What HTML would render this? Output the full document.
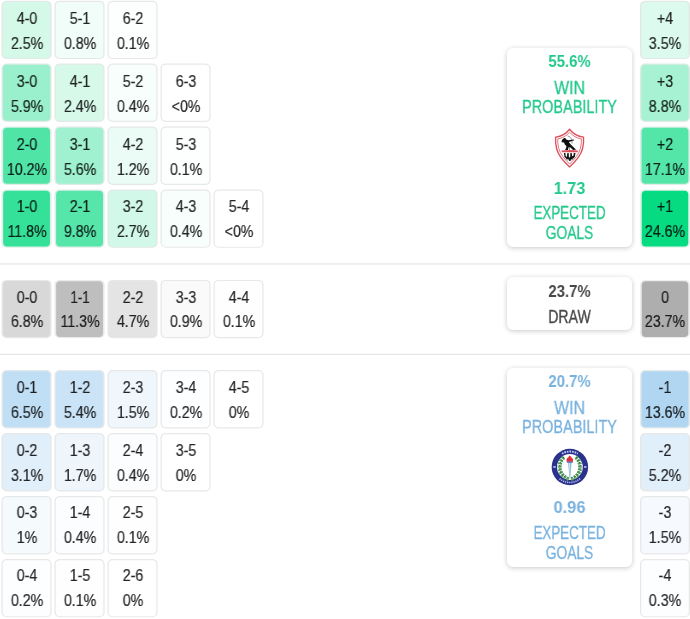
<!DOCTYPE html>
<html><head><meta charset="utf-8"><title>Score matrix</title>
<style>
html,body{margin:0;padding:0;background:#fff;}
body{width:690px;height:619px;position:relative;overflow:hidden;font-family:"Liberation Sans",sans-serif;color:rgba(0,0,0,0.86);}
.bg{position:absolute;left:0;top:0;display:block;}
.c{position:absolute;top:0;height:0;text-align:center;font-size:16.6px;line-height:19px;}
.c span{-webkit-text-stroke:0.2px currentColor;display:block;will-change:transform;position:absolute;left:0;width:100%;transform-origin:50% 50%;white-space:nowrap;}
.hr{position:absolute;left:0;width:690px;height:2px;}
.card{position:absolute;left:507px;width:125px;box-sizing:border-box;background:#fff;border-radius:6px;box-shadow:0 1px 5px rgba(0,0,0,0.22);text-align:center;}
.card span{display:block;will-change:transform;position:absolute;left:-0.3px;width:100%;white-space:nowrap;transform-origin:50% 50%;}
.card svg{position:absolute;display:block;}
.g{color:#22c98b;} .b{color:#78b2de;} .k{color:#484848;}
.big{font-size:17.2px;font-weight:bold;line-height:20px;}
.cap{font-size:18.6px;line-height:21px;-webkit-text-stroke:0.3px currentColor;}
</style></head><body>
<svg class="bg" width="690" height="619" viewBox="0 0 690 619">
<rect x="1.50" y="0.80" width="50.10" height="58.30" rx="5" fill="rgb(226,233,230)"/><rect x="2.83" y="1.97" width="47.43" height="55.97" rx="4" fill="rgb(212,249,233)"/>
<rect x="54.50" y="0.80" width="50.10" height="58.30" rx="5" fill="rgb(230,232,231)"/><rect x="55.78" y="1.96" width="47.55" height="55.99" rx="4" fill="rgb(241,253,248)"/>
<rect x="107.50" y="0.80" width="50.10" height="58.30" rx="5" fill="rgb(231,232,232)"/><rect x="108.75" y="1.95" width="47.59" height="56.00" rx="4" fill="rgb(253,255,254)"/>
<rect x="1.50" y="63.60" width="50.10" height="58.30" rx="5" fill="rgb(221,234,229)"/><rect x="2.95" y="64.79" width="47.20" height="55.92" rx="4" fill="rgb(154,240,204)"/>
<rect x="54.50" y="63.60" width="50.10" height="58.30" rx="5" fill="rgb(226,233,230)"/><rect x="55.83" y="64.77" width="47.44" height="55.97" rx="4" fill="rgb(214,249,234)"/>
<rect x="107.50" y="63.60" width="50.10" height="58.30" rx="5" fill="rgb(231,232,232)"/><rect x="108.76" y="64.75" width="47.57" height="55.99" rx="4" fill="rgb(248,254,252)"/>
<rect x="160.50" y="63.60" width="50.10" height="58.30" rx="5" fill="rgb(232,232,232)"/><rect x="161.75" y="64.75" width="47.60" height="56.00" rx="4" fill="rgb(255,255,255)"/>
<rect x="1.50" y="126.60" width="50.10" height="58.30" rx="5" fill="rgb(220,237,230)"/><rect x="3.10" y="127.82" width="46.91" height="55.86" rx="4" fill="rgb(80,229,167)"/>
<rect x="54.50" y="126.60" width="50.10" height="58.30" rx="5" fill="rgb(221,234,229)"/><rect x="55.94" y="127.79" width="47.22" height="55.92" rx="4" fill="rgb(159,241,207)"/>
<rect x="107.50" y="126.60" width="50.10" height="58.30" rx="5" fill="rgb(229,232,231)"/><rect x="108.79" y="127.76" width="47.52" height="55.98" rx="4" fill="rgb(234,252,245)"/>
<rect x="160.50" y="126.60" width="50.10" height="58.30" rx="5" fill="rgb(231,232,232)"/><rect x="161.75" y="127.75" width="47.59" height="56.00" rx="4" fill="rgb(253,255,254)"/>
<rect x="1.50" y="189.50" width="50.10" height="58.30" rx="5" fill="rgb(221,239,231)"/><rect x="3.15" y="190.73" width="46.80" height="55.84" rx="4" fill="rgb(53,225,153)"/>
<rect x="54.50" y="189.50" width="50.10" height="58.30" rx="5" fill="rgb(220,237,230)"/><rect x="56.08" y="190.72" width="46.93" height="55.87" rx="4" fill="rgb(87,230,170)"/>
<rect x="107.50" y="189.50" width="50.10" height="58.30" rx="5" fill="rgb(226,233,230)"/><rect x="108.84" y="190.67" width="47.42" height="55.96" rx="4" fill="rgb(209,248,232)"/>
<rect x="160.50" y="189.50" width="50.10" height="58.30" rx="5" fill="rgb(231,232,232)"/><rect x="161.76" y="190.65" width="47.57" height="55.99" rx="4" fill="rgb(248,254,252)"/>
<rect x="213.50" y="189.50" width="50.10" height="58.30" rx="5" fill="rgb(232,232,232)"/><rect x="214.75" y="190.65" width="47.60" height="56.00" rx="4" fill="rgb(255,255,255)"/>
<rect x="1.50" y="279.90" width="50.10" height="58.30" rx="5" fill="rgb(232,232,232)"/><rect x="2.98" y="281.10" width="47.14" height="55.91" rx="4" fill="rgb(216,216,216)"/>
<rect x="54.50" y="279.90" width="50.10" height="58.30" rx="5" fill="rgb(234,234,234)"/><rect x="56.13" y="281.13" width="46.83" height="55.85" rx="4" fill="rgb(190,190,190)"/>
<rect x="107.50" y="279.90" width="50.10" height="58.30" rx="5" fill="rgb(231,231,231)"/><rect x="108.91" y="281.08" width="47.28" height="55.94" rx="4" fill="rgb(228,228,228)"/>
<rect x="160.50" y="279.90" width="50.10" height="58.30" rx="5" fill="rgb(232,232,232)"/><rect x="161.78" y="281.06" width="47.54" height="55.99" rx="4" fill="rgb(250,250,250)"/>
<rect x="213.50" y="279.90" width="50.10" height="58.30" rx="5" fill="rgb(232,232,232)"/><rect x="214.75" y="281.05" width="47.59" height="56.00" rx="4" fill="rgb(254,254,254)"/>
<rect x="1.50" y="370.10" width="50.10" height="58.30" rx="5" fill="rgb(228,232,235)"/><rect x="2.97" y="371.29" width="47.16" height="55.91" rx="4" fill="rgb(192,222,244)"/>
<rect x="54.50" y="370.10" width="50.10" height="58.30" rx="5" fill="rgb(228,232,235)"/><rect x="55.93" y="371.29" width="47.23" height="55.93" rx="4" fill="rgb(202,227,246)"/>
<rect x="107.50" y="370.10" width="50.10" height="58.30" rx="5" fill="rgb(230,231,232)"/><rect x="108.80" y="371.26" width="47.50" height="55.98" rx="4" fill="rgb(240,247,252)"/>
<rect x="160.50" y="370.10" width="50.10" height="58.30" rx="5" fill="rgb(232,232,232)"/><rect x="161.76" y="371.25" width="47.59" height="56.00" rx="4" fill="rgb(253,254,255)"/>
<rect x="213.50" y="370.10" width="50.10" height="58.30" rx="5" fill="rgb(232,232,232)"/><rect x="214.75" y="371.25" width="47.60" height="56.00" rx="4" fill="rgb(255,255,255)"/>
<rect x="1.50" y="433.10" width="50.10" height="58.30" rx="5" fill="rgb(229,231,233)"/><rect x="2.86" y="434.27" width="47.39" height="55.96" rx="4" fill="rgb(225,239,250)"/>
<rect x="54.50" y="433.10" width="50.10" height="58.30" rx="5" fill="rgb(230,231,233)"/><rect x="55.81" y="434.26" width="47.48" height="55.98" rx="4" fill="rgb(238,246,252)"/>
<rect x="107.50" y="433.10" width="50.10" height="58.30" rx="5" fill="rgb(231,232,232)"/><rect x="108.76" y="434.25" width="47.57" height="55.99" rx="4" fill="rgb(251,253,254)"/>
<rect x="160.50" y="433.10" width="50.10" height="58.30" rx="5" fill="rgb(232,232,232)"/><rect x="161.75" y="434.25" width="47.60" height="56.00" rx="4" fill="rgb(255,255,255)"/>
<rect x="1.50" y="496.10" width="50.10" height="58.30" rx="5" fill="rgb(231,232,232)"/><rect x="2.78" y="497.26" width="47.53" height="55.99" rx="4" fill="rgb(245,250,253)"/>
<rect x="54.50" y="496.10" width="50.10" height="58.30" rx="5" fill="rgb(231,232,232)"/><rect x="55.76" y="497.25" width="47.57" height="55.99" rx="4" fill="rgb(251,253,254)"/>
<rect x="107.50" y="496.10" width="50.10" height="58.30" rx="5" fill="rgb(232,232,232)"/><rect x="108.75" y="497.25" width="47.59" height="56.00" rx="4" fill="rgb(254,254,255)"/>
<rect x="1.50" y="559.00" width="50.10" height="58.30" rx="5" fill="rgb(232,232,232)"/><rect x="2.76" y="560.15" width="47.59" height="56.00" rx="4" fill="rgb(253,254,255)"/>
<rect x="54.50" y="559.00" width="50.10" height="58.30" rx="5" fill="rgb(232,232,232)"/><rect x="55.75" y="560.15" width="47.59" height="56.00" rx="4" fill="rgb(254,254,255)"/>
<rect x="107.50" y="559.00" width="50.10" height="58.30" rx="5" fill="rgb(232,232,232)"/><rect x="108.75" y="560.15" width="47.60" height="56.00" rx="4" fill="rgb(255,255,255)"/>
<rect x="640.00" y="0.80" width="50.00" height="58.30" rx="5" fill="rgb(227,232,230)"/><rect x="641.32" y="1.96" width="47.36" height="55.97" rx="4" fill="rgb(220,250,237)"/>
<rect x="640.00" y="63.60" width="50.00" height="58.30" rx="5" fill="rgb(222,234,229)"/><rect x="641.43" y="64.79" width="47.15" height="55.93" rx="4" fill="rgb(166,242,210)"/>
<rect x="640.00" y="126.60" width="50.00" height="58.30" rx="5" fill="rgb(220,237,230)"/><rect x="641.59" y="127.82" width="46.82" height="55.86" rx="4" fill="rgb(83,230,168)"/>
<rect x="640.00" y="189.50" width="50.00" height="58.30" rx="5" fill="rgb(224,242,234)"/><rect x="641.74" y="190.75" width="46.52" height="55.80" rx="4" fill="rgb(7,219,130)"/>
<rect x="640.00" y="279.90" width="50.00" height="58.30" rx="5" fill="rgb(237,237,237)"/><rect x="641.72" y="281.14" width="46.55" height="55.81" rx="4" fill="rgb(174,174,174)"/>
<rect x="640.00" y="370.10" width="50.00" height="58.30" rx="5" fill="rgb(228,233,236)"/><rect x="641.52" y="371.30" width="46.96" height="55.89" rx="4" fill="rgb(177,214,241)"/>
<rect x="640.00" y="433.10" width="50.00" height="58.30" rx="5" fill="rgb(229,231,233)"/><rect x="641.35" y="434.27" width="47.29" height="55.96" rx="4" fill="rgb(225,239,250)"/>
<rect x="640.00" y="496.10" width="50.00" height="58.30" rx="5" fill="rgb(231,231,232)"/><rect x="641.28" y="497.26" width="47.44" height="55.99" rx="4" fill="rgb(246,250,254)"/>
<rect x="640.00" y="559.00" width="50.00" height="58.30" rx="5" fill="rgb(232,232,232)"/><rect x="641.26" y="560.15" width="47.49" height="56.00" rx="4" fill="rgb(253,254,255)"/>
</svg>
<div class="c" style="left:1.50px;width:50.10px"><span style="top:9px;transform:scaleX(0.855)">4-0</span><span style="top:34px;transform:scaleX(0.855)">2.5%</span></div>
<div class="c" style="left:54.50px;width:50.10px"><span style="top:9px;transform:scaleX(0.855)">5-1</span><span style="top:34px;transform:scaleX(0.855)">0.8%</span></div>
<div class="c" style="left:107.50px;width:50.10px"><span style="top:9px;transform:scaleX(0.855)">6-2</span><span style="top:34px;transform:scaleX(0.855)">0.1%</span></div>
<div class="c" style="left:1.50px;width:50.10px"><span style="top:72px;transform:scaleX(0.855)">3-0</span><span style="top:97px;transform:scaleX(0.855)">5.9%</span></div>
<div class="c" style="left:54.50px;width:50.10px"><span style="top:72px;transform:scaleX(0.855)">4-1</span><span style="top:97px;transform:scaleX(0.855)">2.4%</span></div>
<div class="c" style="left:107.50px;width:50.10px"><span style="top:72px;transform:scaleX(0.855)">5-2</span><span style="top:97px;transform:scaleX(0.855)">0.4%</span></div>
<div class="c" style="left:160.50px;width:50.10px"><span style="top:72px;transform:scaleX(0.855)">6-3</span><span style="top:97px;transform:scaleX(0.855)">&lt;0%</span></div>
<div class="c" style="left:1.50px;width:50.10px"><span style="top:135px;transform:scaleX(0.855)">2-0</span><span style="top:160px;transform:scaleX(0.855)">10.2%</span></div>
<div class="c" style="left:54.50px;width:50.10px"><span style="top:135px;transform:scaleX(0.855)">3-1</span><span style="top:160px;transform:scaleX(0.855)">5.6%</span></div>
<div class="c" style="left:107.50px;width:50.10px"><span style="top:135px;transform:scaleX(0.855)">4-2</span><span style="top:160px;transform:scaleX(0.855)">1.2%</span></div>
<div class="c" style="left:160.50px;width:50.10px"><span style="top:135px;transform:scaleX(0.855)">5-3</span><span style="top:160px;transform:scaleX(0.855)">0.1%</span></div>
<div class="c" style="left:1.50px;width:50.10px"><span style="top:197px;transform:scaleX(0.855)">1-0</span><span style="top:222px;transform:scaleX(0.855)">11.8%</span></div>
<div class="c" style="left:54.50px;width:50.10px"><span style="top:197px;transform:scaleX(0.855)">2-1</span><span style="top:222px;transform:scaleX(0.855)">9.8%</span></div>
<div class="c" style="left:107.50px;width:50.10px"><span style="top:197px;transform:scaleX(0.855)">3-2</span><span style="top:222px;transform:scaleX(0.855)">2.7%</span></div>
<div class="c" style="left:160.50px;width:50.10px"><span style="top:197px;transform:scaleX(0.855)">4-3</span><span style="top:222px;transform:scaleX(0.855)">0.4%</span></div>
<div class="c" style="left:213.50px;width:50.10px"><span style="top:197px;transform:scaleX(0.855)">5-4</span><span style="top:222px;transform:scaleX(0.855)">&lt;0%</span></div>
<div class="c" style="left:1.50px;width:50.10px"><span style="top:288px;transform:scaleX(0.855)">0-0</span><span style="top:312px;transform:scaleX(0.855)">6.8%</span></div>
<div class="c" style="left:54.50px;width:50.10px"><span style="top:288px;transform:scaleX(0.800)">1-1</span><span style="top:312px;transform:scaleX(0.855)">11.3%</span></div>
<div class="c" style="left:107.50px;width:50.10px"><span style="top:288px;transform:scaleX(0.855)">2-2</span><span style="top:312px;transform:scaleX(0.855)">4.7%</span></div>
<div class="c" style="left:160.50px;width:50.10px"><span style="top:288px;transform:scaleX(0.855)">3-3</span><span style="top:312px;transform:scaleX(0.855)">0.9%</span></div>
<div class="c" style="left:213.50px;width:50.10px"><span style="top:288px;transform:scaleX(0.855)">4-4</span><span style="top:312px;transform:scaleX(0.855)">0.1%</span></div>
<div class="c" style="left:1.50px;width:50.10px"><span style="top:378px;transform:scaleX(0.855)">0-1</span><span style="top:403px;transform:scaleX(0.855)">6.5%</span></div>
<div class="c" style="left:54.50px;width:50.10px"><span style="top:378px;transform:scaleX(0.855)">1-2</span><span style="top:403px;transform:scaleX(0.855)">5.4%</span></div>
<div class="c" style="left:107.50px;width:50.10px"><span style="top:378px;transform:scaleX(0.855)">2-3</span><span style="top:403px;transform:scaleX(0.855)">1.5%</span></div>
<div class="c" style="left:160.50px;width:50.10px"><span style="top:378px;transform:scaleX(0.855)">3-4</span><span style="top:403px;transform:scaleX(0.855)">0.2%</span></div>
<div class="c" style="left:213.50px;width:50.10px"><span style="top:378px;transform:scaleX(0.855)">4-5</span><span style="top:403px;transform:scaleX(0.855)">0%</span></div>
<div class="c" style="left:1.50px;width:50.10px"><span style="top:441px;transform:scaleX(0.855)">0-2</span><span style="top:466px;transform:scaleX(0.855)">3.1%</span></div>
<div class="c" style="left:54.50px;width:50.10px"><span style="top:441px;transform:scaleX(0.855)">1-3</span><span style="top:466px;transform:scaleX(0.855)">1.7%</span></div>
<div class="c" style="left:107.50px;width:50.10px"><span style="top:441px;transform:scaleX(0.855)">2-4</span><span style="top:466px;transform:scaleX(0.855)">0.4%</span></div>
<div class="c" style="left:160.50px;width:50.10px"><span style="top:441px;transform:scaleX(0.855)">3-5</span><span style="top:466px;transform:scaleX(0.855)">0%</span></div>
<div class="c" style="left:1.50px;width:50.10px"><span style="top:503px;transform:scaleX(0.855)">0-3</span><span style="top:528px;transform:scaleX(0.855)">1%</span></div>
<div class="c" style="left:54.50px;width:50.10px"><span style="top:503px;transform:scaleX(0.855)">1-4</span><span style="top:528px;transform:scaleX(0.855)">0.4%</span></div>
<div class="c" style="left:107.50px;width:50.10px"><span style="top:503px;transform:scaleX(0.855)">2-5</span><span style="top:528px;transform:scaleX(0.855)">0.1%</span></div>
<div class="c" style="left:1.50px;width:50.10px"><span style="top:566px;transform:scaleX(0.855)">0-4</span><span style="top:591px;transform:scaleX(0.855)">0.2%</span></div>
<div class="c" style="left:54.50px;width:50.10px"><span style="top:566px;transform:scaleX(0.855)">1-5</span><span style="top:591px;transform:scaleX(0.855)">0.1%</span></div>
<div class="c" style="left:107.50px;width:50.10px"><span style="top:566px;transform:scaleX(0.855)">2-6</span><span style="top:591px;transform:scaleX(0.855)">0%</span></div>
<div class="c" style="left:640.00px;width:50.00px"><span style="top:9px;transform:scaleX(0.855)">+4</span><span style="top:34px;transform:scaleX(0.855)">3.5%</span></div>
<div class="c" style="left:640.00px;width:50.00px"><span style="top:72px;transform:scaleX(0.855)">+3</span><span style="top:97px;transform:scaleX(0.855)">8.8%</span></div>
<div class="c" style="left:640.00px;width:50.00px"><span style="top:135px;transform:scaleX(0.855)">+2</span><span style="top:160px;transform:scaleX(0.855)">17.1%</span></div>
<div class="c" style="left:640.00px;width:50.00px"><span style="top:197px;transform:scaleX(0.855)">+1</span><span style="top:222px;transform:scaleX(0.855)">24.6%</span></div>
<div class="c" style="left:640.00px;width:50.00px"><span style="top:288px;transform:scaleX(0.855)">0</span><span style="top:312px;transform:scaleX(0.855)">23.7%</span></div>
<div class="c" style="left:640.00px;width:50.00px"><span style="top:378px;transform:scaleX(0.855)">-1</span><span style="top:403px;transform:scaleX(0.855)">13.6%</span></div>
<div class="c" style="left:640.00px;width:50.00px"><span style="top:441px;transform:scaleX(0.855)">-2</span><span style="top:466px;transform:scaleX(0.855)">5.2%</span></div>
<div class="c" style="left:640.00px;width:50.00px"><span style="top:503px;transform:scaleX(0.855)">-3</span><span style="top:528px;transform:scaleX(0.855)">1.5%</span></div>
<div class="c" style="left:640.00px;width:50.00px"><span style="top:566px;transform:scaleX(0.855)">-4</span><span style="top:591px;transform:scaleX(0.855)">0.3%</span></div>
<div class="hr" style="top:263px;background:linear-gradient(#eeeeee 50%,#f1f1f1 50%)"></div>
<div class="hr" style="top:353px;background:linear-gradient(#f8f8f8 50%,#e8e8e8 50%)"></div>
<div class="card g" style="top:48.0px;height:199.0px">
<span class="big" style="top:3.00px;transform:scaleX(0.872)">55.6%</span>
<span class="cap" style="top:29.00px;transform:scaleX(0.854)">WIN</span>
<span class="cap" style="top:48.00px;transform:scaleX(0.778)">PROBABILITY</span>
<svg style="left:42.6px;top:76.8px" width="40.5" height="45.4" viewBox="549 124 42 47" preserveAspectRatio="none">
<path d="M569.3,128.4 C565.8,133.0 560.8,135.8 554.8,136.5 C554.3,145.4 556.0,152.0 560.2,157.6 C562.9,161.2 566.2,164.6 569.3,167.4 C572.4,164.6 575.7,161.2 578.4,157.6 C582.6,152.0 584.3,145.4 583.8,136.5 C577.8,135.8 572.8,133.0 569.3,128.4 Z" fill="#fff" stroke="#dd4f5d" stroke-width="1.4" stroke-linejoin="round"/>
<path d="M569.3,131.6 C566.0,135.3 561.8,137.6 557.0,138.4 C556.8,145.7 558.4,151.5 562.0,156.3 C564.2,159.3 566.8,162.1 569.3,164.5 C571.8,162.1 574.4,159.3 576.6,156.3 C580.2,151.5 581.8,145.7 581.6,138.4 C576.8,137.6 572.6,135.3 569.3,131.6 Z" fill="none" stroke="#e0606c" stroke-width="0.9" stroke-linejoin="round"/>
<path d="M561.0,141.9 C561.0,139.8 562.0,138.0 563.6,137.6 C564.8,137.4 565.5,138.2 565.8,139.0 L568.2,139.9 L573.8,139.0 L574.0,139.9 L568.6,141.6 C569.2,143.0 570.6,144.4 572.4,146.0 L576.0,149.6 L573.0,149.8 L569.9,147.0 L569.2,149.8 L564.6,149.8 C565.4,148.4 566.2,147.2 566.0,145.8 C564.8,144.8 563.8,143.6 563.6,142.2 Z" fill="#0d0d0d"/>
<path d="M567.4,149.9 L568.6,146.6 L569.4,147.2 L568.9,149.9 Z" fill="#fff"/>
<path d="M567.3,135.3 C570.8,136.4 572.4,139.4 571.7,143.2" fill="none" stroke="#333" stroke-width="0.55"/>
<path d="M561.0,150.4 C566,149.7 573,149.7 578.0,150.4 L577.7,152.2 L561.3,152.2 Z" fill="#dd4f5d"/>
<path d="M563.4,153.0 L565.0,153.0 L565.3,156.4 L566.6,157.0 L566.8,153.2 L568.4,153.0 L568.7,157.6 L569.9,157.2 L570.1,153.0 L571.7,153.2 L571.9,156.4 L573.4,155.6 L573.6,153.0 L575.4,153.0 L574.8,157.2 L572.6,159.0 L570.8,159.6 L570.4,161.4 L568.6,161.0 L568.4,159.6 L566.0,159.0 L564.0,157.2 Z" fill="#161616"/>
<path d="M565.6,158.0 L567.0,160.6 M572.8,158.4 L571.6,160.4" stroke="#222" stroke-width="0.7"/>
</svg>
<span class="big" style="top:130.00px;transform:scaleX(0.943)">1.73</span>
<span class="cap" style="top:154.00px;transform:scaleX(0.720)">EXPECTED</span>
<span class="cap" style="top:174.00px;transform:scaleX(0.743)">GOALS</span>
</div>
<div class="card k" style="top:277.0px;height:53.0px">
<span class="big" style="top:4.00px;transform:scaleX(0.872)">23.7%</span>
<span class="cap" style="top:29.00px;transform:scaleX(0.760)">DRAW</span>
</div>
<div class="card b" style="top:368.0px;height:199.0px">
<span class="big" style="top:3.00px;transform:scaleX(0.872)">20.7%</span>
<span class="cap" style="top:29.00px;transform:scaleX(0.854)">WIN</span>
<span class="cap" style="top:48.00px;transform:scaleX(0.778)">PROBABILITY</span>
<svg style="left:41.0px;top:77.0px" width="44" height="44" viewBox="548 445 44 44">
<circle cx="569.9" cy="467" r="18.25" fill="#2b328e"/>
<circle cx="569.9" cy="467" r="12.9" fill="#fff"/>
<g fill="none" stroke="#b9c2ea" stroke-width="1.9">
<path d="M562.0,453.7 A15.4,15.4 0 0 1 577.8,453.7" stroke-dasharray="1.7 0.9"/>
<path d="M559.6,478.6 A15.6,15.6 0 0 0 580.2,478.6" stroke-width="1.6" stroke-dasharray="1.2 0.9"/>
</g>
<rect x="553.3" y="466.0" width="2.4" height="1.9" fill="#aab4e2"/>
<rect x="584.1" y="466.0" width="2.4" height="1.9" fill="#aab4e2"/>
<g fill="none" stroke="#4f9a5c" stroke-width="4" stroke-dasharray="2.2 0.9">
<path d="M564.0,457.3 C558.8,461.2 558.2,470.4 562.6,475.2 C564.4,477.2 566.8,478.5 569.4,479.3"/>
<path d="M575.8,457.3 C581.0,461.2 581.6,470.4 577.2,475.2 C575.4,477.2 573.0,478.5 570.4,479.3"/>
</g>
<g fill="none" stroke="#2f6d3a" stroke-width="1.4" stroke-dasharray="1.0 2.1">
<path d="M564.0,457.3 C558.8,461.2 558.2,470.4 562.6,475.2 C564.4,477.2 566.8,478.5 569.4,479.3"/>
<path d="M575.8,457.3 C581.0,461.2 581.6,470.4 577.2,475.2 C575.4,477.2 573.0,478.5 570.4,479.3"/>
</g>
<g fill="none" stroke="#cfe8d2" stroke-width="0.8" stroke-dasharray="0.9 2.5" stroke-dashoffset="1.4">
<path d="M562.4,458.0 C557.4,462.0 557.0,470.4 561.2,475.4 C563.0,477.6 566.2,478.8 569.2,479.4"/>
<path d="M577.4,458.0 C582.4,462.0 582.8,470.4 578.6,475.4 C576.8,477.6 573.6,478.8 570.6,479.4"/>
</g>
<path d="M568.0,462.4 L571.6,462.4 L570.3,478.4 L569.5,478.4 Z" fill="#93bfd3"/>
<path d="M568.8,462.6 L569.8,462.6 L569.8,476 Z" fill="#d4e7ef"/>
<rect x="566.8" y="461.3" width="6.0" height="1.5" rx="0.5" fill="#4063b6"/>
<path d="M566.7,461.4 C566.0,459.8 566.8,458.2 568.2,457.6 C568.4,456.8 569.0,456.0 569.7,455.4 C570.4,456.2 571.2,456.8 571.7,457.7 C573.0,458.4 573.5,460.0 572.9,461.4 Z" fill="#e62f3c"/>
</svg>
<span class="big" style="top:129.00px;transform:scaleX(0.954)">0.96</span>
<span class="cap" style="top:154.00px;transform:scaleX(0.720)">EXPECTED</span>
<span class="cap" style="top:174.00px;transform:scaleX(0.743)">GOALS</span>
</div>
</body></html>
